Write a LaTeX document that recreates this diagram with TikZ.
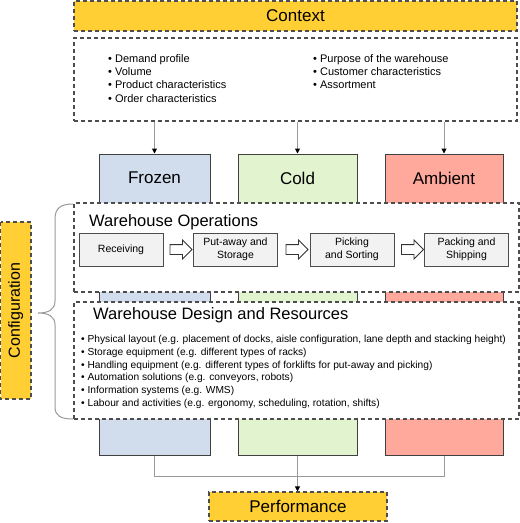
\documentclass[tikz,border=0pt]{standalone}
\usepackage{fontspec}
\setmainfont{Liberation Sans}
\usetikzlibrary{shapes.arrows, arrows.meta}

\definecolor{headyellow}{HTML}{FFCF33}
\definecolor{frozenblue}{HTML}{D1DDED}
\definecolor{coldgreen}{HTML}{E1F3CF}
\definecolor{ambientred}{HTML}{FFA89C}
\definecolor{dashgrey}{HTML}{4D4D4D}
\definecolor{linkgrey}{HTML}{999999}
\definecolor{stepgrey}{HTML}{F2F2F2}

\tikzset{
  dashbox/.style={draw=dashgrey, line width=1.1pt, dash pattern=on 4pt off 3pt},
  headbox/.style={dashbox, fill=headyellow, font=\fontsize{17}{20}\selectfont},
  zonebox/.style={draw=black!75, line width=1pt, minimum height=301pt},
  zonelabel/.style={font=\fontsize{17}{20}\selectfont},
  panelbox/.style={dashbox, fill=white, minimum width=445pt},
  paneltitle/.style={font=\fontsize{16.5}{20}\selectfont, anchor=west, inner sep=0pt},
  listtext/.style={align=left, inner sep=0pt, anchor=north west},
  stepbox/.style={draw=black!70, line width=1pt, fill=stepgrey, minimum width=84pt, minimum height=33pt, align=center, inner sep=1pt, font=\fontsize{10.5}{13}\selectfont},
  flowarrow/.style={single arrow, draw=black!80, line width=0.8pt, fill=white, minimum height=22pt, minimum width=18pt, inner sep=4.5pt, single arrow head extend=4.5pt},
  link/.style={draw=linkgrey, line width=1pt},
  tip/.style={-{Triangle[length=5pt, width=5pt, color=black]}}
}

\begin{document}
\begin{tikzpicture}[x=1pt, y=-1pt]
  \useasboundingbox (0,0) rectangle (520,523);

  % temperature zones, partly hidden by the panels
  \node[zonebox, fill=frozenblue, minimum width=111pt] (frozen) at (154.5,304.5) {};
  \node[zonebox, fill=coldgreen, minimum width=119pt] (cold) at (297.5,304.5) {};
  \node[zonebox, fill=ambientred, minimum width=118pt] (ambient) at (444,304.5) {};
  \node[zonelabel] (frozenlabel) at (154.5,178) {Frozen};
  \node[zonelabel] (coldlabel) at (297.5,178) {Cold};
  \node[zonelabel] (ambientlabel) at (444,178) {Ambient};

  % context
  \node[headbox, minimum width=443pt, minimum height=30pt] (context) at (295.5,16) {Context};
  \node[dashbox, minimum width=443pt, minimum height=83pt] (ctxlist) at (295.5,79.5) {};
  \node[listtext, font=\fontsize{11}{13.3}\selectfont] (ctxleft) at (108,54)
    {\textbullet{} Demand profile\\\textbullet{} Volume\\\textbullet{} Product characteristics\\\textbullet{} Order characteristics};
  \node[listtext, font=\fontsize{11}{13.3}\selectfont] (ctxright) at (313,54)
    {\textbullet{} Purpose of the warehouse\\\textbullet{} Customer characteristics\\\textbullet{} Assortment};

  \foreach \zone in {frozen, cold, ambient}
    \draw[link, tip] (\zone.north |- ctxlist.south) -- (\zone.north);

  % configuration panels
  \node[panelbox, minimum height=89pt] (operations) at (296.5,247.5) {};
  \node[paneltitle] (opstitle) at (89,222) {Warehouse Operations};
  \node[panelbox, minimum height=117pt] (design) at (296.5,360.5) {};
  \node[paneltitle] (designtitle) at (93,315) {Warehouse Design and Resources};

  \foreach \name/\xpos/\words in {receive/121/Receiving, putaway/235.5/{Put-away and\\Storage}, pick/352/{Picking\\and Sorting}, pack/466.5/{Packing and\\Shipping}}
    \node[stepbox] (\name) at (\xpos,249.5) {\words};
  \foreach \name/\xpos in {flowa/178.5, flowb/294.5, flowc/410}
    \node[flowarrow] (\name) at (\xpos,249.5) {};

  \node[listtext, font=\fontsize{10.2}{12.8}\selectfont] (designlist) at (81,335)
    {\textbullet{} Physical layout (e.g. placement of docks, aisle configuration, lane depth and stacking height)\\
     \textbullet{} Storage equipment (e.g. different types of racks)\\
     \textbullet{} Handling equipment (e.g. different types of forklifts for put-away and picking)\\
     \textbullet{} Automation solutions (e.g. conveyors, robots)\\
     \textbullet{} Information systems (e.g. WMS)\\
     \textbullet{} Labour and activities (e.g. ergonomy, scheduling, rotation, shifts)};

  \node[headbox, rotate=90, minimum width=177pt, minimum height=30.5pt, font=\fontsize{16}{20}\selectfont] (config) at (15.75,310.5) {Configuration};
  \draw[linkgrey, line width=1pt] (73,204) .. controls (61,204) and (55,208) .. (55,219) -- (55,301)
    .. controls (55,310) and (48,313) .. (38,313) .. controls (48,313) and (55,316) .. (55,325)
    -- (55,407) .. controls (55,416) and (61,419) .. (73,419);

  % performance
  \node[headbox, minimum width=178pt, minimum height=29pt] (performance) at (298,506.5) {Performance};
  \coordinate (merge) at (297.5,476);
  \draw[link] (frozen.south) -- (frozen.south |- merge) -- (ambient.south |- merge) -- (ambient.south);
  \draw[link, tip] (cold.south) -- (cold.south |- performance.north);
\end{tikzpicture}
\end{document}
